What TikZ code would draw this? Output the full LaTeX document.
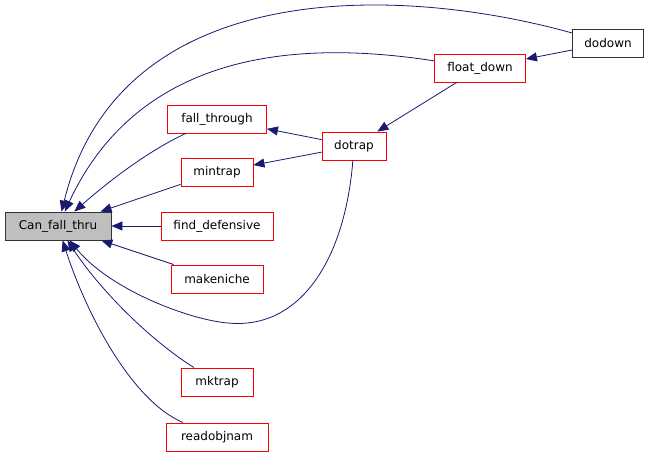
\documentclass[tikz,border=0pt]{standalone}
\usepackage{fontspec}
\setmainfont{DejaVu Sans}
\usetikzlibrary{arrows.meta}

\definecolor{edgeblue}{RGB}{25,25,112}
\definecolor{boxred}{RGB}{255,0,0}
\definecolor{boxgray}{RGB}{191,191,191}

\begin{document}
\begin{tikzpicture}[x=1pt,y=-1pt,
                fn node/.style={rectangle,draw=boxred,line width=0.9pt,minimum height=28pt,inner sep=0pt,font=\fontsize{12}{14}\selectfont},
                call/.style={edgeblue,line width=0.8pt,-{Triangle[length=11pt,width=9pt]}},
                ]
                \useasboundingbox (0,0) rectangle (651,457);
                \node[fn node, draw=black!80, fill=boxgray, minimum width=106pt] (cft) at (58,226) {Can\_fall\_thru};
                \node[fn node, minimum width=99pt] (fallthrough) at (217,119) {fall\_through};
                \node[fn node, minimum width=72pt] (mintrap) at (217,172) {mintrap};
                \node[fn node, minimum width=112pt] (finddef) at (217,226) {find\_defensive};
                \node[fn node, minimum width=92pt] (makeniche) at (217,279) {makeniche};
                \node[fn node, minimum width=72pt] (mktrap) at (217,382) {mktrap};
                \node[fn node, minimum width=102pt] (readobj) at (217,437) {readobjnam};
                \node[fn node, minimum width=64pt] (dotrap) at (354,146) {dotrap};
                \node[fn node, minimum width=91pt] (floatdown) at (480,68) {float\_down};
                \node[fn node, draw=black!80, minimum width=71pt] (dodown) at (608,43) {dodown};

                \draw[call] (dodown) -- (floatdown);
                \draw[call] (dodown) .. controls (400,-15) and (120,-25) .. (cft);
                \draw[call] (floatdown) .. controls (300,40) and (140,50) .. (cft);
                \draw[call] (floatdown) -- (dotrap);
                \draw[call] (dotrap) -- (fallthrough);
                \draw[call] (dotrap) -- (mintrap);
                \draw[call] (dotrap) .. controls (345,260) and (300,330) .. (228,323)
                    .. controls (190,320) and (110,290) .. (cft);
                \draw[call] (fallthrough) .. controls (150,150) and (110,180) .. (cft);
                \draw[call] (mintrap) -- (cft);
                \draw[call] (finddef) -- (cft);
                \draw[call] (makeniche) -- (cft);
                \draw[call] (mktrap) .. controls (150,340) and (100,290) .. (cft);
                \draw[call] (readobj) .. controls (130,400) and (85,310) .. (cft);
            \end{tikzpicture}
\end{document}
